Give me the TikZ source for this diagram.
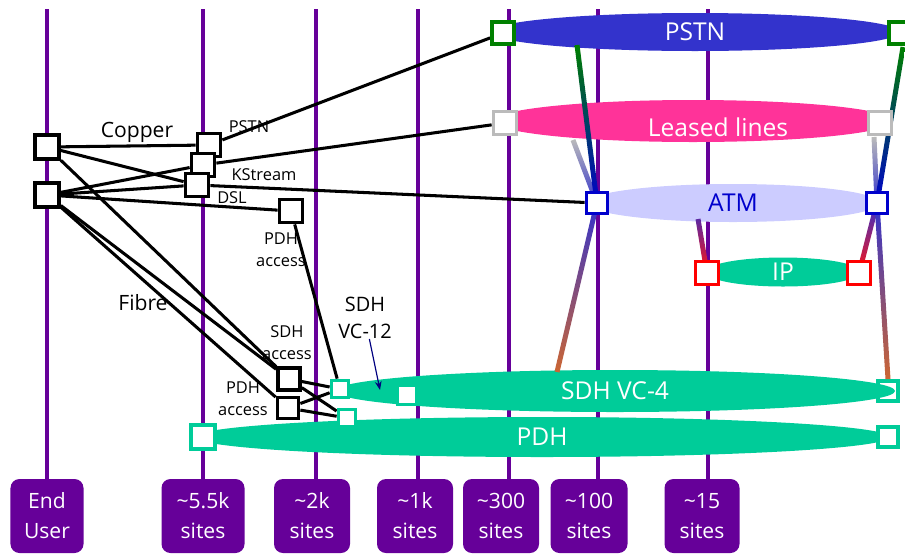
\documentclass[tikz,border=0pt]{standalone}
\usepackage{fontspec}
\setmainfont{Open Sans}
\usepackage{tikz}
\usetikzlibrary{shapes.geometric, arrows.meta, calc}
\definecolor{tierpurple}{HTML}{660099}
\definecolor{pstnblue}{HTML}{3333CC}
\definecolor{leasedpink}{HTML}{FF3399}
\definecolor{atmlav}{HTML}{CCCCFF}
\definecolor{atmblue}{HTML}{0000CC}
\definecolor{seagreen}{HTML}{00CC99}
\definecolor{pstngreen}{HTML}{008000}
\definecolor{leasedgray}{HTML}{BBBBBB}
\definecolor{ipred}{HTML}{FF0000}
\definecolor{rustorange}{HTML}{CC6633}
\definecolor{arrownavy}{HTML}{000080}
\pgfdeclarelayer{back}
\pgfdeclarelayer{mid}
\pgfsetlayers{back,mid,main}

% shaded band between two points, top colour to bottom colour
\newcommand\fade[5]{%
  \shade[top color=#3, middle color=#4, bottom color=#5]
    ($(#1)!0.075cm!90:(#2)$) -- ($(#1)!0.075cm!-90:(#2)$) --
    ($(#2)!0.075cm!90:(#1)$) -- ($(#2)!0.075cm!-90:(#1)$) -- cycle;}

\begin{document}
\begin{tikzpicture}[
    x=0.03cm, y=-0.03cm,
    tier/.style={draw=tierpurple, line width=2.6pt},
    site/.style={fill=tierpurple, rounded corners=0.27cm, minimum height=2.22cm, inner sep=0, align=center, text=white, font=\fontsize{18}{25.6}\selectfont},
    net/.style={ellipse, inner sep=0, text=white, font=\fontsize{21}{25}\selectfont},
    port/.style={draw, fill=white, line width=3.2pt, minimum size=0.69cm, inner sep=0},
    link/.style={line width=2.6pt},
    tag/.style={inner sep=0, align=center, font=\fontsize{14}{18.8}\selectfont},
    bigtag/.style={inner sep=0, align=center, font=\fontsize{18}{23}\selectfont},
    pointer/.style={-{Stealth[length=2.6mm, width=2mm]}, draw=arrownavy, line width=1pt}
]
\useasboundingbox (0,0) rectangle (905,555);

% site counts along the bottom
\node[site, minimum width=2.19cm] (eu) at (47,516) {End\\User};
\node[site, minimum width=2.49cm] (s55k) at (203,516) {\textasciitilde5.5k\\sites};
\node[site, minimum width=2.28cm] (s2k) at (312,516) {\textasciitilde2k\\sites};
\node[site, minimum width=2.28cm] (s1k) at (415,516) {\textasciitilde1k\\sites};
\node[site, minimum width=2.28cm] (s300) at (501,516) {\textasciitilde300\\sites};
\node[site, minimum width=2.31cm] (s100) at (589,516) {\textasciitilde100\\sites};
\node[site, minimum width=2.25cm] (s15) at (702,516) {\textasciitilde15\\sites};

% end user and access ports
\node[port, minimum size=0.72cm] (eu1) at (47,147) {};
\node[port, minimum size=0.72cm] (eu2) at (47,195) {};
\node[port] (pstnacc) at (209,145) {};
\node[port] (kstream) at (203,165) {};
\node[port] (dsl) at (197,185) {};
\node[port] (pdhup) at (291,211) {};
\node[port, minimum size=0.66cm] (sdhacc) at (289,379) {};
\node[port, minimum size=0.63cm] (pdhlow) at (288,408) {};

% network ports
\node[port, draw=seagreen, minimum size=0.51cm] (vc12a) at (340,389) {};
\node[port, draw=seagreen, minimum size=0.51cm] (vc12b) at (347,418) {};
\node[port, draw=seagreen, minimum size=0.57cm] (vc4L) at (407,395) {};
\node[port, draw=seagreen, minimum size=0.72cm] (pdhL) at (203,437) {};
\node[port, draw=seagreen, minimum size=0.6cm] (pdhR) at (888,437) {};
\node[port, draw=pstngreen, minimum size=0.66cm] (pstnL) at (503,33) {};
\node[port, draw=pstngreen, minimum size=0.66cm] (pstnR) at (900,33) {};
\node[port, draw=leasedgray, minimum size=0.69cm] (leasedL) at (505,123) {};
\node[port, draw=leasedgray, minimum size=0.69cm] (leasedR) at (880,123) {};
\node[port, draw=atmblue, minimum size=0.63cm] (atmL) at (597,203) {};
\node[port, draw=atmblue, minimum size=0.63cm] (atmR) at (877,203) {};
\node[port, draw=ipred, minimum size=0.69cm] (ipL) at (707,273) {};
\node[port, draw=ipred, minimum size=0.69cm] (ipR) at (859,273) {};

% labels
\node[bigtag] (copperlbl) at (137,132) {Copper};
\node[bigtag] (fibrelbl) at (143,303) {Fibre};
\node[tag] (pstnlbl) at (249,127) {PSTN};
\node[tag] (kstreamlbl) at (264,175) {KStream};
\node[tag] (dsllbl) at (232,198) {DSL};
\node[tag] (pdhuplbl) at (281,250) {PDH\\access};
\node[tag] (sdhacclbl) at (287,343) {SDH\\access};
\node[tag] (pdhlowlbl) at (243,399) {PDH\\access};
\node[bigtag, font=\fontsize{17}{23}\selectfont] (vc12lbl) at (365,318) {SDH\\VC-12};

\begin{pgfonlayer}{back}
\foreach \x/\nm in {47/eu, 203/s55k, 316/s2k, 418/s1k, 509/s300, 598/s100, 708/s15} {
  \coordinate (top) at (\x,9);
  \draw[tier] (top) -- (top |- \nm.north);
}
\node[port, draw=seagreen, minimum size=0.6cm] (vc4R) at (888,391) {};
\node[net, fill=pstnblue, minimum width=12.3cm, minimum height=1.14cm] (pstn) at (695,32) {PSTN};
\node[net, fill=leasedpink, minimum width=12cm, minimum height=1.26cm] (leased) at (693,121) {};
\node[net, fill=atmlav, text=atmblue, minimum width=8.79cm, minimum height=1.14cm] (atm) at (733,203) {ATM};
\node[net, fill=seagreen, minimum width=4.65cm, minimum height=0.87cm] (ip) at (783,272) {IP};
\node[net, fill=seagreen, minimum width=16.8cm, minimum height=1.26cm] (vc4) at (615,391) {SDH VC-4};
\node[net, fill=seagreen, minimum width=20.85cm, minimum height=1.2cm] (pdh) at (542,437) {PDH};
\node[net] (leasedtxt) at (718,127) {Leased lines};
\end{pgfonlayer}

\begin{pgfonlayer}{mid}
\coordinate (pstnfootL) at (577,45);
\coordinate (leasedfootL) at (573,140);
\coordinate (vc4headL) at (557,372);
\coordinate (atmfoot) at (698,219);
\coordinate (pstnfootR) at (903,47);
\coordinate (leasedfootR) at (874,137);
\coordinate (vc12tip) at (380,390);

\fade{leasedfootL}{atmL}{leasedgray}{atmlav}{pstnblue}
\fade{pstnfootL}{atmL}{pstngreen}{teal}{atmblue}
\fade{atmL}{vc4headL}{pstnblue}{violet!70}{rustorange}
\fade{atmfoot}{ipL}{pstnblue!80!red}{purple}{ipred!90!pink}
\fade{leasedfootR}{atmR}{leasedgray}{atmlav}{pstnblue}
\fade{pstnfootR}{atmR}{pstngreen}{teal}{atmblue}
\fade{atmR}{ipR}{pstnblue}{purple}{ipred!90!pink}
\fade{atmR}{vc4R.north}{pstnblue}{violet!70}{rustorange}

\draw[link] (eu1) -- (pstnacc);
\draw[link] (eu1) -- (dsl);
\draw[link] (eu1) -- (sdhacc);
\draw[link] (eu2) -- (kstream);
\draw[link] (eu2) -- (dsl);
\draw[link] (eu2) -- (pdhup);
\draw[link] (eu2) -- (sdhacc);
\draw[link] (eu2) -- (pdhlow);
\draw[link] (pstnacc) -- (pstnL);
\draw[link] (kstream) -- (leasedL);
\draw[link] (dsl) -- (atmL);
\draw[link] (pdhup) -- (vc12a);
\draw[link] (sdhacc) -- (vc12a);
\draw[link] (sdhacc) -- (vc12b);
\draw[link] (pdhlow) -- (vc12a);
\draw[link] (pdhlow) -- (vc12b);
\draw[pointer] (vc12lbl) -- (vc12tip);
\end{pgfonlayer}
\end{tikzpicture}
\end{document}
